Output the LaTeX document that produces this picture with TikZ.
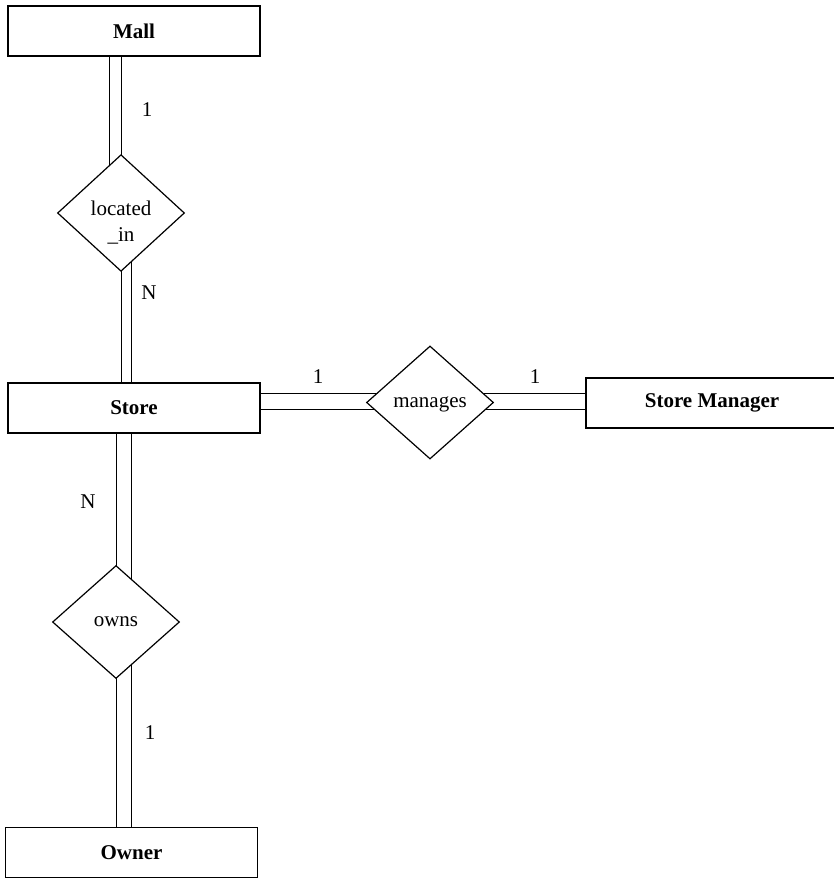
\documentclass[tikz,border=0pt]{standalone}
\usepackage{fontspec}
\setmainfont{Liberation Serif}
\usetikzlibrary{shapes.geometric}
\usetikzlibrary{backgrounds}

\tikzset{
  entity/.style={draw, fill=white, line width=1.2pt, minimum width=252pt,
    minimum height=50pt, font=\fontsize{21}{26}\selectfont\bfseries},
  rel/.style={draw, diamond, fill=white, line width=1.2pt, minimum width=127pt,
    minimum height=113pt, inner sep=0pt, align=center},
  link/.style={line width=1.2pt}
}

\begin{document}
\begin{tikzpicture}[x=1pt, y=-1pt, font=\fontsize{21}{26}\selectfont]
  \useasboundingbox (0,0) rectangle (833,880);
  % entities
  \node(mall) [entity] at (134,31) {Mall};
  \node(store) [entity] at (134,408) {Store};
  \node(mgr) [entity] at (712,403) {Store Manager};
  \node(owner) [entity] at (131.5,852.5) {Owner};
  % relationships
  \node(loc) [rel, text height=56pt, text depth=-20pt] at (121,213) {located\\\_in};
  \node(man) [rel, text depth=1pt] at (430,402.5) {manages};
  \node(owns) [rel] at (116,622) {owns};
  % cardinalities
  \node(c1) at (147,110) {1};
  \node(c2) at (149,293) {N};
  \node(c3) at (318,377) {1};
  \node(c4) at (535,377) {1};
  \node(c5) at (88,502) {N};
  \node(c6) at (150,733) {1};
  % double links, drawn behind the shapes
  \begin{scope}[on background layer, link]
    \draw (mall.south -| 109,0) -- (loc.center -| 109,0);
    \draw (mall.south -| 121,0) -- (loc.center);
    \draw (loc.center) -- (store.north -| 121,0);
    \draw (loc.center -| 131,0) -- (store.north -| 131,0);
    \draw (store.east |- 0,393) -- (mgr.west |- 0,393);
    \draw (store.east |- 0,409) -- (mgr.west |- 0,409);
    \draw (store.south -| 116,0) -- (owns.center);
    \draw (store.south -| 131,0) -- (owns.center -| 131,0);
    \draw (owns.center) -- (owner.north -| 116,0);
    \draw (owns.center -| 131,0) -- (owner.north -| 131,0);
  \end{scope}
\end{tikzpicture}
\end{document}
